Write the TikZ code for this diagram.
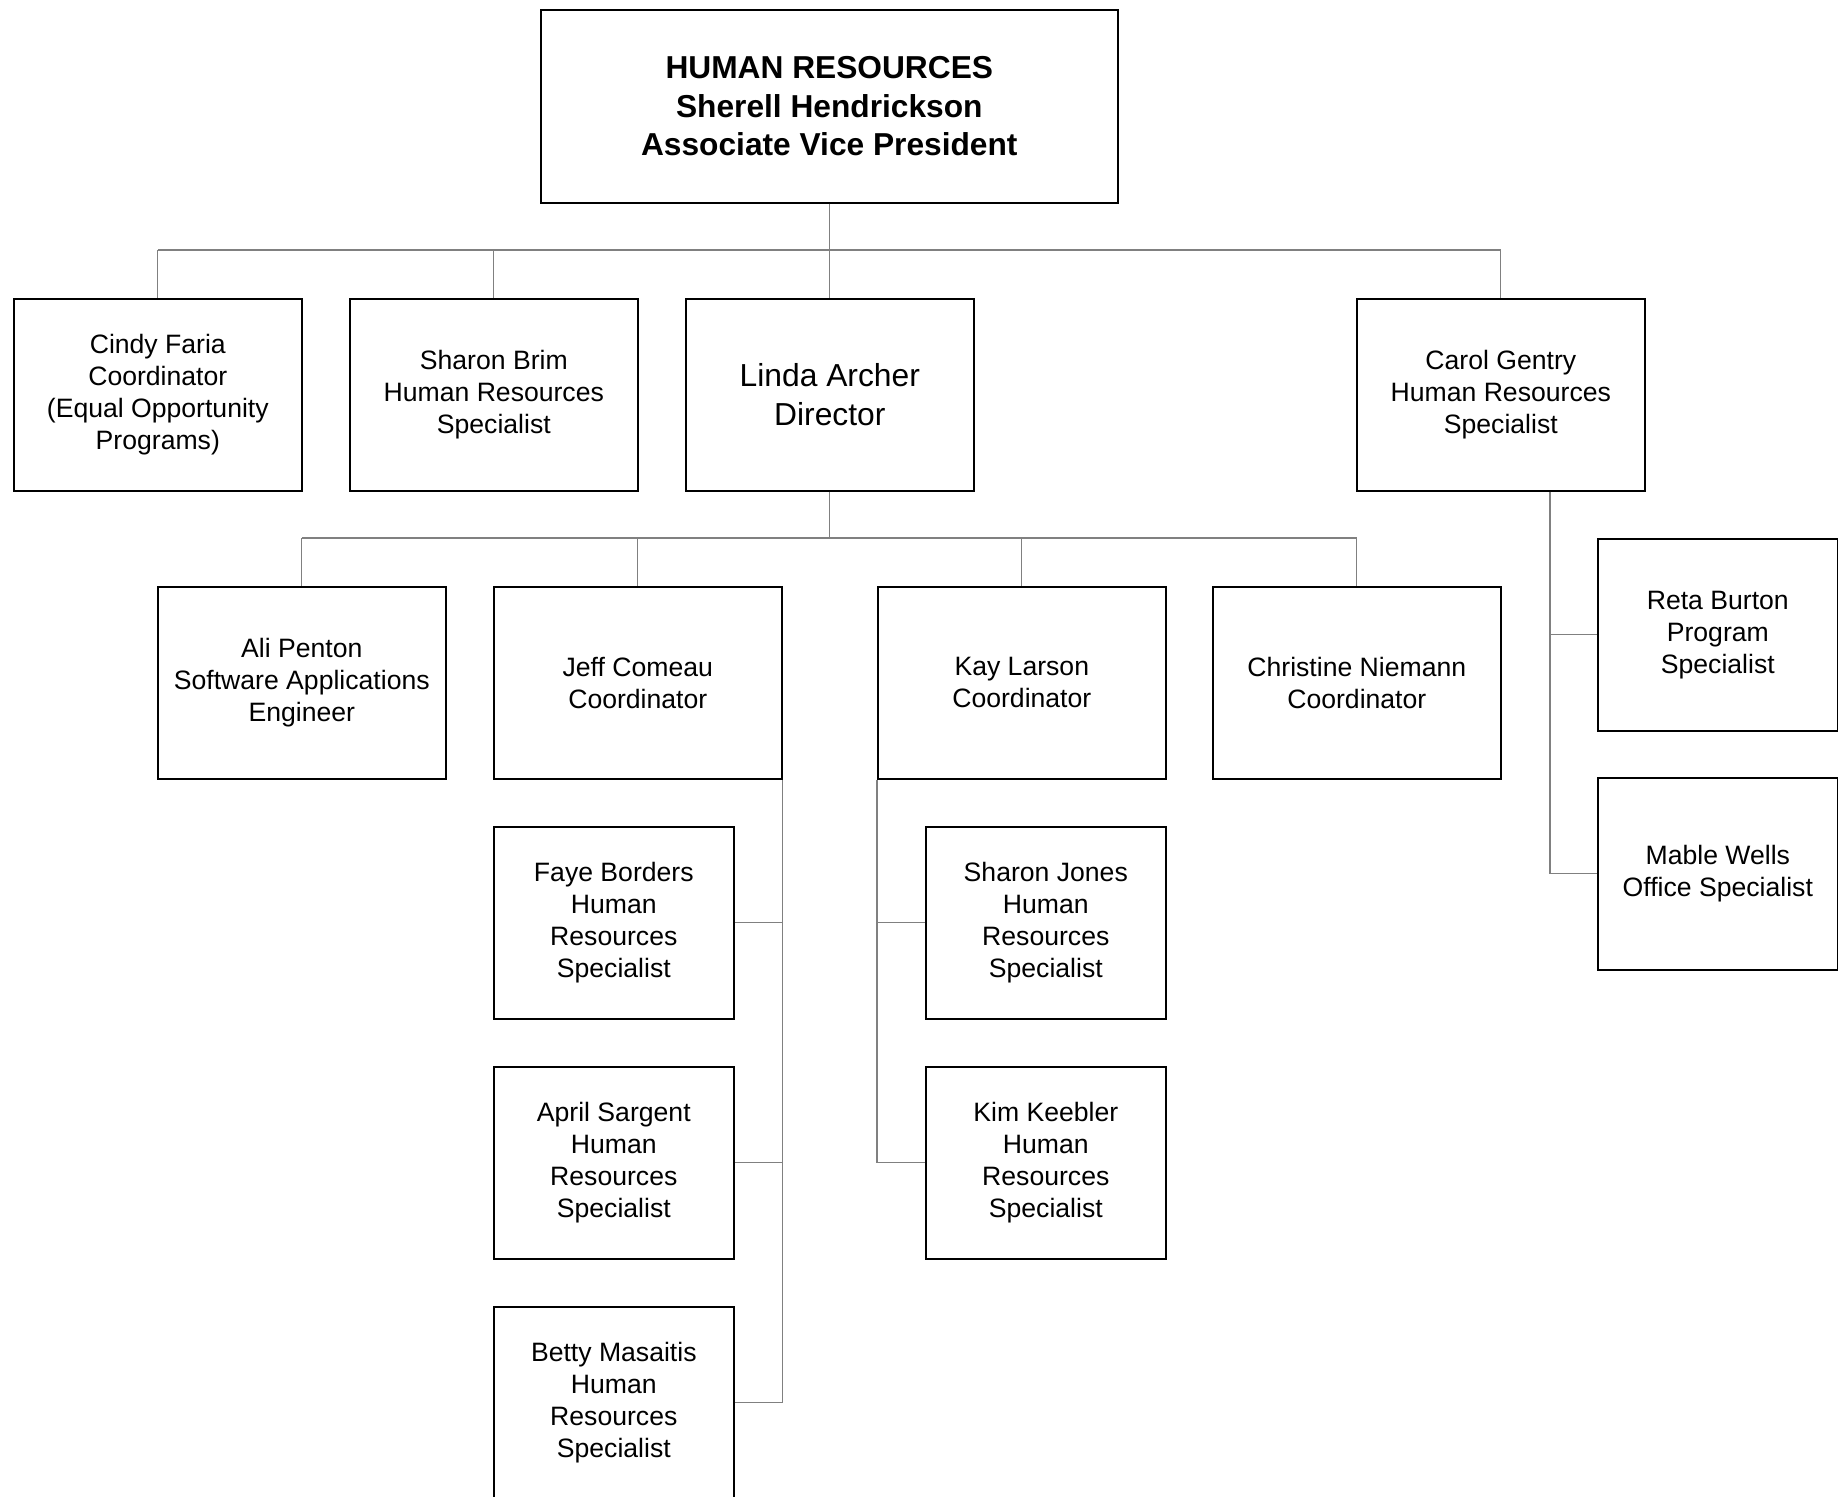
\documentclass[tikz,border=0pt]{standalone}
\usepackage{fontspec}
\setmainfont{Liberation Sans}
\begin{document}
\begin{tikzpicture}[x=1pt,y=-1pt,
  box/.style={draw=black,line width=1.6pt,fill=white,rectangle,anchor=north west,inner sep=0pt,align=center,
    font=\fontsize{26.6}{32}\selectfont},
  big/.style={box,font=\fontsize{31.8}{38.7}\selectfont},
  topbox/.style={box,font=\fontsize{31.7}{38.7}\selectfont\bfseries},
  conn/.style={draw=black!50,line width=1.1pt}]
\useasboundingbox (0,0) rectangle (1838,1496);
\fill[white] (0,0) rectangle (1838,1496);
% level 0
\node[topbox,minimum width=577pt,minimum height=193pt] (hr) at (540,9) {HUMAN RESOURCES\\Sherell Hendrickson\\Associate Vice President};
% level 1
\node[box,minimum width=288pt,minimum height=192pt] (cindy) at (13,298) {Cindy Faria\\Coordinator\\(Equal Opportunity\\Programs)};
\node[box,minimum width=288pt,minimum height=192pt] (brim) at (349,298) {Sharon Brim\\Human Resources\\Specialist};
\node[big,minimum width=288pt,minimum height=192pt] (linda) at (685,298) {Linda Archer\\Director};
\node[box,minimum width=288pt,minimum height=192pt] (carol) at (1356,298) {Carol Gentry\\Human Resources\\Specialist};
% level 2
\node[box,minimum width=288pt,minimum height=192pt] (ali) at (157,586) {Ali Penton\\Software Applications\\Engineer};
\node[box,minimum width=288pt,minimum height=192pt] (jeff) at (493,586) {Jeff Comeau\\Coordinator};
\node[box,minimum width=288pt,minimum height=192pt] (kay) at (877,586) {Kay Larson\\Coordinator};
\node[box,minimum width=288pt,minimum height=192pt] (christine) at (1212,586) {Christine Niemann\\Coordinator};
% Carol's staff
\node[box,minimum width=240pt,minimum height=192pt] (reta) at (1597,538) {Reta Burton\\Program\\Specialist};
\node[box,minimum width=240pt,minimum height=192pt] (mable) at (1597,777) {Mable Wells\\Office Specialist};
% Jeff's staff
\node[box,minimum width=240pt,minimum height=192pt] (faye) at (493,826) {Faye Borders\\Human\\Resources\\Specialist};
\node[box,minimum width=240pt,minimum height=192pt] (april) at (493,1066) {April Sargent\\Human\\Resources\\Specialist};
\node[box,minimum width=240pt,minimum height=192pt] (betty) at (493,1306) {Betty Masaitis\\Human\\Resources\\Specialist};
% Kay's staff
\node[box,minimum width=240pt,minimum height=192pt] (sjones) at (925,826) {Sharon Jones\\Human\\Resources\\Specialist};
\node[box,minimum width=240pt,minimum height=192pt] (kim) at (925,1066) {Kim Keebler\\Human\\Resources\\Specialist};
% connectors level 1
\coordinate (b1) at (0,250);
\draw[conn] (hr.south) -- (hr.south |- b1);
\draw[conn] (cindy.north |- b1) -- (carol.north |- b1);
\foreach \n in {cindy,brim,linda,carol} \draw[conn] (\n.north |- b1) -- (\n.north);
% connectors level 2
\coordinate (b2) at (0,538);
\draw[conn] (linda.south) -- (linda.south |- b2);
\draw[conn] (ali.north |- b2) -- (christine.north |- b2);
\foreach \n in {ali,jeff,kay,christine} \draw[conn] (\n.north |- b2) -- (\n.north);
% Carol's staff
\coordinate (cx) at (1550,0);
\draw[conn] (carol.south -| cx) -- (mable.west -| cx);
\draw[conn] (reta.west -| cx) -- (reta.west);
\draw[conn] (mable.west -| cx) -- (mable.west);
% Jeff's staff
\draw[conn] (jeff.south east) -- (betty.east -| jeff.south east);
\foreach \n in {faye,april,betty} \draw[conn] (\n.east) -- (\n.east -| jeff.south east);
% Kay's staff
\draw[conn] (kay.south west) -- (kim.west -| kay.south west);
\foreach \n in {sjones,kim} \draw[conn] (\n.west) -- (\n.west -| kay.south west);
\end{tikzpicture}
\end{document}
